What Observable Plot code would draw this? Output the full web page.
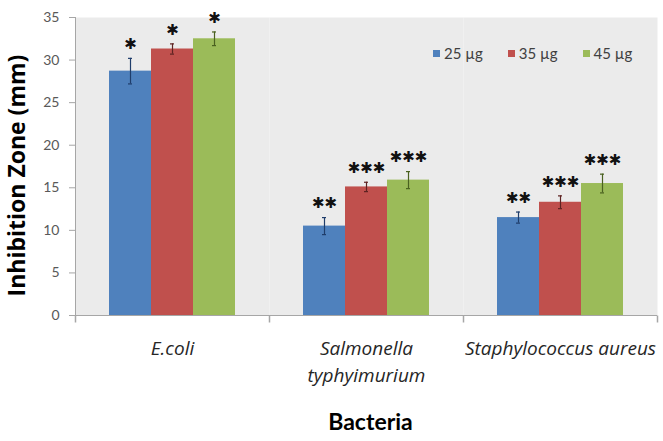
<!DOCTYPE html>
<html>
<head>
<meta charset="utf-8">
<script src="https://cdn.jsdelivr.net/npm/d3@7"></script>
<script src="https://cdn.jsdelivr.net/npm/@observablehq/plot@0.6"></script>
<style>
  html, body { margin: 0; padding: 0; background: #fff; }
  #wrap { position: relative; width: 663px; height: 441px; font-family: Lato, "Open Sans", sans-serif; }
  #legend { position: absolute; left: 433px; top: 44px; }
  .lg-swatches { font-family: Lato, sans-serif; font-size: 15px; color: #404040; margin: 0 !important; min-height: 0 !important; }
  .lg-swatch { margin-right: 25px !important; }
  .lg-swatch > svg { margin-right: 4px !important; }
</style>
</head>
<body>
<div id="wrap"><div id="chart"></div><div id="legend"></div></div>
<script>
const bacteria = ["E.coli", "Salmonella typhyimurium", "Staphylococcus aureus"];
const doses = ["25 µg", "35 µg", "45 µg"];
const colors = ["#4f81bd", "#c0504d", "#9bbb59"];
const errColors = ["#1f3d6b", "#5e2322", "#4a6120"];

const zone25 = [28.7, 10.5, 11.5];
const zone35 = [31.3, 15.1, 13.3];
const zone45 = [32.5, 15.9, 15.5];
const err25 = [1.5, 1.0, 0.65];
const err35 = [0.6, 0.55, 0.75];
const err45 = [0.8, 1.0, 1.1];
const stars25 = ["*", "**", "**"];
const stars35 = ["*", "***", "***"];
const stars45 = ["*", "***", "***"];
const yTicks = [0, 5, 10, 15, 20, 25, 30, 35];

const series = [
  [zone25, err25, stars25],
  [zone35, err35, stars35],
  [zone45, err45, stars45]
];
const data = [];
series.forEach(([z, e, s], di) => {
  bacteria.forEach((b, bi) => {
    data.push({bacteria: b, dose: doses[di], zone: z[bi], err: e[bi], stars: s[bi]});
  });
});

const vtick = {draw(ctx) { ctx.moveTo(0, 0); ctx.lineTo(0, 7); }};
const errStroke = d => errColors[doses.indexOf(d.dose)];
const fmtFx = d => d === "Salmonella typhyimurium" ? "Salmonella\ntyphyimurium" : d;

const chart = Plot.plot({
  width: 663,
  height: 441,
  marginTop: 17,
  marginBottom: 126,
  marginLeft: 74,
  marginRight: 5,
  style: {fontFamily: "Lato, sans-serif", background: "#fff"},
  fx: {domain: bacteria, padding: 0, axis: null},
  x: {domain: doses, paddingInner: 0, paddingOuter: 0.765, axis: null},
  y: {domain: [0, 35], axis: null},
  color: {domain: doses, range: colors},
  marks: [
    Plot.frame({fill: "#ebebeb", stroke: "none"}),
    Plot.frame({anchor: "left", stroke: "#a6a6a6", facetAnchor: "left"}),
    Plot.ruleY([0], {stroke: "#a6a6a6"}),
    Plot.dot(bacteria, {fx: d => d, frameAnchor: "bottom-left", symbol: vtick, stroke: "#a6a6a6", fill: "none"}),
    Plot.dot([bacteria[2]], {fx: d => d, frameAnchor: "bottom-right", symbol: vtick, stroke: "#a6a6a6", fill: "none"}),
    Plot.barY(data, {fx: "bacteria", x: "dose", y: "zone", fill: "dose"}),
    Plot.ruleX(data, {fx: "bacteria", x: "dose", y1: d => d.zone - d.err, y2: d => d.zone + d.err, stroke: errStroke, strokeWidth: 1.2}),
    Plot.tickY(data, {fx: "bacteria", x: "dose", y: d => d.zone - d.err, stroke: errStroke, strokeWidth: 1.2, insetLeft: 19, insetRight: 19}),
    Plot.tickY(data, {fx: "bacteria", x: "dose", y: d => d.zone + d.err, stroke: errStroke, strokeWidth: 1.2, insetLeft: 19, insetRight: 19}),
    Plot.text(data, {fx: "bacteria", x: "dose", y: d => d.zone + d.err, text: d => d.stars.replace(/\*/g, "✱"), dy: -14, lineAnchor: "middle", fontSize: 15, fill: "#111", fontFamily: "DejaVu Sans"}),
    Plot.axisY({ticks: yTicks, tickSize: 6, tickPadding: 10, fontSize: 14, stroke: "#a6a6a6", fill: "#595959", label: null}),
    Plot.axisFx({anchor: "bottom", tickSize: 0, tickPadding: 20, fontSize: 19, fontStyle: "italic", fontFamily: "Open Sans, sans-serif", fill: "#262626", lineHeight: 1.42, tickFormat: fmtFx, label: null}),
    Plot.text(["Inhibition Zone (mm)"], {fx: () => bacteria[0], frameAnchor: "left", textAnchor: "middle", rotate: -90, dx: -58, dy: 9, fontSize: 23, fontWeight: "bold", fontFamily: "Open Sans, sans-serif", fill: "#000"}),
    Plot.text(["Bacteria"], {fx: () => bacteria[1], frameAnchor: "bottom", dx: 4, dy: 114, fontSize: 23, fontWeight: "bold", fill: "#000"})
  ]
});
document.getElementById("chart").appendChild(chart);

const legend = Plot.legend({color: {domain: doses, range: colors}, legend: "swatches", swatchSize: 7, className: "lg"});
document.getElementById("legend").appendChild(legend);
</script>
</body>
</html>
